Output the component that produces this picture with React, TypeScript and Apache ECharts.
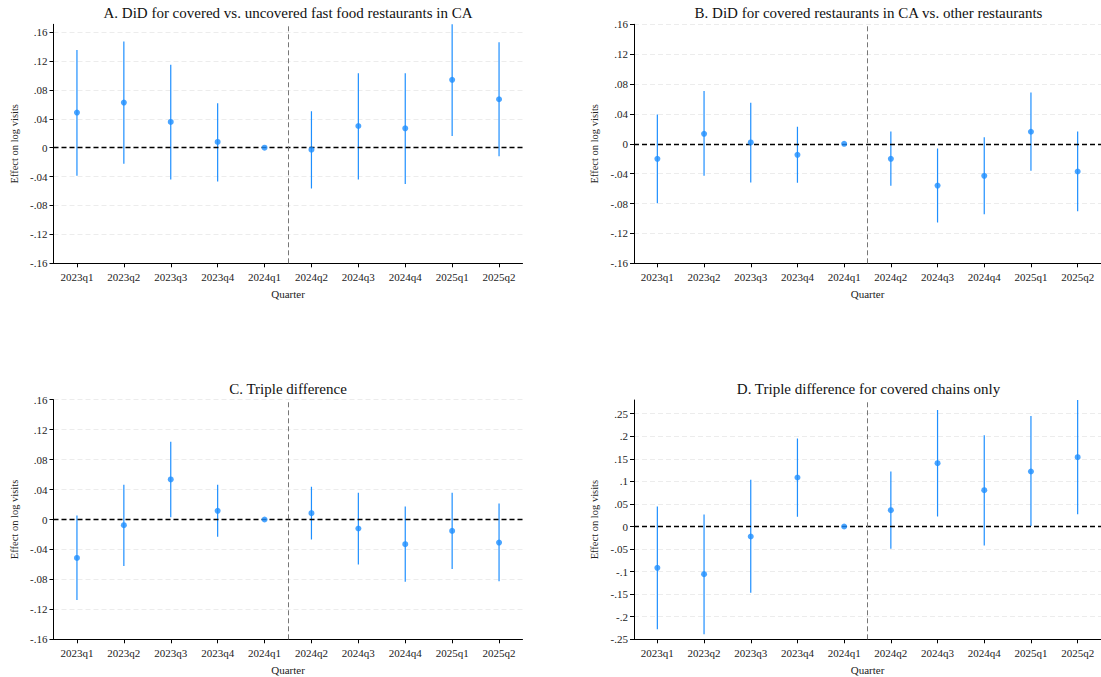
import React, { useEffect, useRef } from "react";
import * as echarts from "echarts";

const quarters = ["2023q1", "2023q2", "2023q3", "2023q4", "2024q1", "2024q2", "2024q3", "2024q4", "2025q1", "2025q2"];

const estA = [0.0486, 0.0624, 0.0356, 0.0079, 0, -0.0028, 0.030, 0.0268, 0.0939, 0.067];
const loA = [-0.0388, -0.0222, -0.0439, -0.0467, null, -0.0564, -0.0439, -0.0504, 0.0162, -0.012];
const hiA = [0.135, 0.147, 0.1147, 0.0615, null, 0.0504, 0.103, 0.103, 0.1716, 0.1457];

const estB = [-0.0201, 0.0134, 0.0018, -0.0147, 0, -0.0201, -0.0559, -0.0429, 0.0161, -0.0371];
const loB = [-0.0796, -0.0429, -0.0519, -0.0523, null, -0.0563, -0.1055, -0.0943, -0.0362, -0.0903];
const hiB = [0.0393, 0.0706, 0.055, 0.0228, null, 0.0165, -0.0063, 0.0089, 0.0688, 0.0165];

const estC = [-0.0513, -0.0076, 0.0535, 0.0116, 0, 0.0085, -0.012, -0.033, -0.0152, -0.0308];
const loC = [-0.1074, -0.062, 0.0031, -0.0232, null, -0.0267, -0.0602, -0.0833, -0.066, -0.0825];
const hiC = [0.0053, 0.0464, 0.1038, 0.0464, null, 0.0437, 0.0357, 0.0174, 0.0357, 0.0214];

const estD = [-0.0916, -0.1056, -0.0222, 0.1086, 0, 0.0362, 0.1403, 0.0805, 0.1219, 0.1536];
const loD = [-0.2275, -0.2386, -0.147, 0.0214, null, -0.0495, 0.0222, -0.0421, 0.001, 0.0273];
const hiD = [0.0443, 0.0266, 0.1034, 0.195, null, 0.1219, 0.2585, 0.2024, 0.2452, 0.2807];

const yTicksSmall = [-0.16, -0.12, -0.08, -0.04, 0, 0.04, 0.08, 0.12, 0.16];
const yTicksD = [-0.25, -0.2, -0.15, -0.1, -0.05, 0, 0.05, 0.1, 0.15, 0.2, 0.25];

const titles = [
  "A. DiD for covered vs. uncovered fast food restaurants in CA",
  "B. DiD for covered restaurants in CA vs. other restaurants",
  "C. Triple difference",
  "D. Triple difference for covered chains only",
];

const yName = "Effect on log visits";
const xName = "Quarter";
const treatmentBreak = 5.5;

const BLUE = "#1e8fff";
const FONT = "Liberation Serif";

const fmtY = (v: number) => {
  if (Math.abs(v) < 1e-9) return "0";
  const s = parseFloat(Math.abs(v).toFixed(4)).toString().replace(/^0\./, ".");
  return (v < 0 ? "-" : "") + s;
};

export default function App() {
  const ref = useRef<HTMLDivElement>(null);
  useEffect(() => {
    if (!ref.current) return;
    const chart = echarts.init(ref.current, undefined, { renderer: "svg" });

    const panels = [
      { est: estA, lo: loA, hi: hiA, ticks: yTicksSmall, min: -0.16, max: 0.1707, grid: { left: 53.5, top: 24.3, width: 469, height: 239 }, titleY: 5 },
      { est: estB, lo: loB, hi: hiB, ticks: yTicksSmall, min: -0.16, max: 0.16, grid: { left: 634, top: 24.3, width: 469, height: 239 }, titleY: 5 },
      { est: estC, lo: loC, hi: hiC, ticks: yTicksSmall, min: -0.16, max: 0.16, grid: { left: 53.5, top: 399.7, width: 469, height: 239.6 }, titleY: 381 },
      { est: estD, lo: loD, hi: hiD, ticks: yTicksD, min: -0.25, max: 0.2804, grid: { left: 634, top: 400, width: 469, height: 239.3 }, titleY: 381 },
    ];

    const xTickVals = quarters.map((_, i) => i + 1);

    const grids: any[] = [];
    const xAxes: any[] = [];
    const yAxes: any[] = [];
    const series: any[] = [];
    const graphics: any[] = [];

    panels.forEach((p, k) => {
      grids.push({ ...p.grid, containLabel: false });
      xAxes.push({
        type: "value",
        gridIndex: k,
        min: 0.5,
        max: 10.5,
        name: xName,
        nameLocation: "middle",
        nameGap: 25,
        nameTextStyle: { fontFamily: FONT, fontSize: 11, color: "#222" },
        axisLine: { show: true, onZero: false, lineStyle: { color: "#000", width: 1 } },
        axisTick: { show: true, length: 4, customValues: xTickVals, lineStyle: { color: "#000" } },
        axisLabel: {
          customValues: xTickVals,
          formatter: (v: number) => quarters[Math.round(v) - 1] ?? "",
          fontFamily: FONT,
          fontSize: 11,
          color: "#222",
          margin: 8,
        },
        splitLine: { show: false },
      });
      yAxes.push({
        type: "value",
        gridIndex: k,
        min: p.min,
        max: p.max,
        name: yName,
        nameLocation: "middle",
        nameGap: 34,
        nameRotate: 90,
        nameTextStyle: { fontFamily: FONT, fontSize: 10.5, color: "#222" },
        axisLine: { show: true, onZero: false, lineStyle: { color: "#000", width: 1 } },
        axisTick: { show: true, length: 4, customValues: p.ticks, lineStyle: { color: "#000" } },
        axisLabel: {
          customValues: p.ticks,
          formatter: fmtY,
          fontFamily: FONT,
          fontSize: 11,
          color: "#222",
          margin: 6,
        },
        splitLine: { show: true, lineStyle: { color: "#ececec", type: [5, 3], width: 1 } },
      });

      const barData: any[] = [];
      p.est.forEach((_, i) => {
        if (p.lo[i] != null && p.hi[i] != null) barData.push([i + 1, p.lo[i], p.hi[i]]);
      });

      series.push({
        type: "custom",
        xAxisIndex: k,
        yAxisIndex: k,
        data: barData,
        encode: { x: 0, y: [1, 2] },
        clip: true,
        z: 3,
        renderItem: (params: any, api: any) => {
          const x = api.value(0);
          const a = api.coord([x, api.value(1)]);
          const b = api.coord([x, api.value(2)]);
          return {
            type: "line",
            shape: { x1: a[0], y1: a[1], x2: b[0], y2: b[1] },
            style: { stroke: BLUE, lineWidth: 1.2 },
          };
        },
      });

      series.push({
        type: "scatter",
        xAxisIndex: k,
        yAxisIndex: k,
        data: p.est.map((v, i) => [i + 1, v]),
        symbol: "circle",
        symbolSize: 6,
        itemStyle: { color: BLUE },
        z: 5,
        silent: true,
        markLine: {
          silent: true,
          symbol: "none",
          label: { show: false },
          animation: false,
          data: [
            { yAxis: 0, lineStyle: { color: "#000", type: [5, 3], width: 1.3 } },
            { xAxis: treatmentBreak, lineStyle: { color: "#777", type: [5, 3], width: 1 } },
          ],
        },
      });

      graphics.push({
        type: "text",
        x: p.grid.left + p.grid.width / 2,
        y: p.titleY,
        style: {
          text: titles[k],
          fontFamily: FONT,
          fontSize: 15,
          fill: "#111",
          textAlign: "center",
        },
      });
    });

    chart.setOption({
      animation: false,
      backgroundColor: "#fff",
      grid: grids,
      xAxis: xAxes,
      yAxis: yAxes,
      series,
      graphic: graphics,
    });

    return () => chart.dispose();
  }, []);

  return <div ref={ref} style={{ position: "fixed", left: 0, top: 0, width: 1101, height: 677, background: "#fff" }} />;
}
